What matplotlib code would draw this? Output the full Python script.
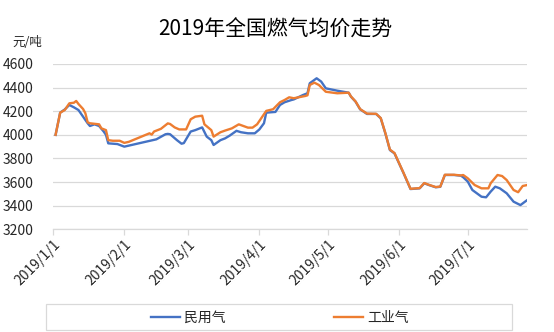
import matplotlib
matplotlib.use("Agg")
import matplotlib.pyplot as plt
import matplotlib.dates as mdates
from matplotlib.patches import Rectangle
from matplotlib.lines import Line2D
from datetime import datetime

plt.rcParams['font.family'] = ['Noto Sans CJK SC', 'DejaVu Sans']

title = "2019年全国燃气均价走势"
unit_label = "元/吨"
series_names = ["民用气", "工业气"]

civil_dates = [
    "2019-01-02", "2019-01-04", "2019-01-06", "2019-01-08", "2019-01-10", "2019-01-12",
    "2019-01-14", "2019-01-16", "2019-01-17", "2019-01-19", "2019-01-21", "2019-01-23",
    "2019-01-24", "2019-01-25", "2019-01-29", "2019-02-01", "2019-02-15", "2019-02-19",
    "2019-02-20", "2019-02-21", "2019-02-24", "2019-02-26", "2019-02-27", "2019-03-02",
    "2019-03-04", "2019-03-07", "2019-03-09", "2019-03-11", "2019-03-12", "2019-03-15",
    "2019-03-17", "2019-03-19", "2019-03-22", "2019-03-24", "2019-03-27", "2019-03-30",
    "2019-04-01", "2019-04-03", "2019-04-04", "2019-04-08", "2019-04-10", "2019-04-12",
    "2019-04-15", "2019-04-16", "2019-04-20", "2019-04-22", "2019-04-23", "2019-04-26",
    "2019-04-28", "2019-04-30", "2019-05-05", "2019-05-10", "2019-05-11", "2019-05-13",
    "2019-05-15", "2019-05-18", "2019-05-22", "2019-05-24", "2019-05-26", "2019-05-28",
    "2019-05-30", "2019-06-03", "2019-06-06", "2019-06-10", "2019-06-12", "2019-06-14",
    "2019-06-17", "2019-06-19", "2019-06-21", "2019-06-25", "2019-06-28", "2019-06-29",
    "2019-07-01", "2019-07-03", "2019-07-07", "2019-07-09", "2019-07-11", "2019-07-13",
    "2019-07-15", "2019-07-18", "2019-07-21", "2019-07-24", "2019-07-26", "2019-07-27",
]
civil_values = [
    4000, 4188, 4215, 4253, 4233, 4210,
    4154, 4098, 4075, 4089, 4075, 4028,
    4000, 3928, 3922, 3900, 3962, 4005,
    4008, 4005, 3955, 3925, 3930, 4028,
    4040, 4063, 3985, 3955, 3914, 3955,
    3970, 3993, 4034, 4022, 4013, 4013,
    4046, 4098, 4188, 4194, 4253, 4276,
    4295, 4300, 4337, 4352, 4437, 4479,
    4451, 4394, 4374, 4357, 4323, 4281,
    4216, 4177, 4177, 4140, 4013, 3871,
    3843, 3674, 3541, 3547, 3590, 3575,
    3556, 3560, 3660, 3660, 3654, 3641,
    3604, 3533, 3476, 3471, 3519, 3561,
    3547, 3505, 3434, 3405, 3434, 3448,
]

industrial_dates = [
    "2019-01-02", "2019-01-04", "2019-01-06", "2019-01-08", "2019-01-10", "2019-01-11",
    "2019-01-12", "2019-01-14", "2019-01-15", "2019-01-16", "2019-01-17", "2019-01-21",
    "2019-01-22", "2019-01-24", "2019-01-25", "2019-01-27", "2019-01-30", "2019-02-01",
    "2019-02-03", "2019-02-12", "2019-02-13", "2019-02-14", "2019-02-17", "2019-02-20",
    "2019-02-21", "2019-02-23", "2019-02-25", "2019-02-28", "2019-03-02", "2019-03-04",
    "2019-03-07", "2019-03-08", "2019-03-11", "2019-03-12", "2019-03-15", "2019-03-17",
    "2019-03-20", "2019-03-23", "2019-03-25", "2019-03-27", "2019-03-29", "2019-03-31",
    "2019-04-02", "2019-04-04", "2019-04-07", "2019-04-10", "2019-04-12", "2019-04-14",
    "2019-04-16", "2019-04-21", "2019-04-22", "2019-04-23", "2019-04-25", "2019-04-27",
    "2019-04-30", "2019-05-05", "2019-05-10", "2019-05-11", "2019-05-13", "2019-05-15",
    "2019-05-18", "2019-05-22", "2019-05-24", "2019-05-26", "2019-05-28", "2019-05-30",
    "2019-06-03", "2019-06-06", "2019-06-10", "2019-06-12", "2019-06-14", "2019-06-17",
    "2019-06-19", "2019-06-21", "2019-06-25", "2019-06-28", "2019-06-29", "2019-07-01",
    "2019-07-04", "2019-07-07", "2019-07-10", "2019-07-11", "2019-07-14", "2019-07-16",
    "2019-07-18", "2019-07-21", "2019-07-23", "2019-07-25", "2019-07-27",
]
industrial_values = [
    4000, 4188, 4210, 4267, 4272, 4287,
    4261, 4219, 4183, 4106, 4098, 4089,
    4055, 4040, 3955, 3950, 3950, 3932,
    3941, 4013, 4002, 4028, 4051, 4097,
    4092, 4063, 4046, 4046, 4132, 4154,
    4162, 4089, 4040, 3985, 4022, 4036,
    4055, 4089, 4075, 4061, 4061, 4089,
    4146, 4203, 4217, 4276, 4295, 4318,
    4310, 4329, 4335, 4422, 4442, 4422,
    4365, 4352, 4357, 4325, 4283, 4218,
    4180, 4178, 4142, 4016, 3875, 3846,
    3676, 3543, 3549, 3592, 3577, 3558,
    3562, 3662, 3662, 3656, 3660, 3632,
    3575, 3547, 3547, 3590, 3660, 3651,
    3617, 3533, 3514, 3567, 3575,
]

month_ticks = ["2019-01-01", "2019-02-01", "2019-03-01", "2019-04-01",
               "2019-05-01", "2019-06-01", "2019-07-01"]
x_start, x_end = "2019-01-01", "2019-07-27"
y_ticks = [3200, 3400, 3600, 3800, 4000, 4200, 4400, 4600]

to_dt = lambda seq: [datetime.strptime(s, "%Y-%m-%d") for s in seq]

blue = "#4472C4"
orange = "#ED7D31"
grid_c = "#D9D9D9"
text_c = "#262626"

fig = plt.figure(figsize=(5.54, 3.32), dpi=100)
ax = fig.add_axes([53.3 / 554, 1 - 229.3 / 332, (527.3 - 53.3) / 554, (229.3 - 64) / 332])

ax.plot(to_dt(civil_dates), civil_values, color=blue, lw=1.7, solid_joinstyle="round")
ax.plot(to_dt(industrial_dates), industrial_values, color=orange, lw=1.7, solid_joinstyle="round")

ax.set_xlim(to_dt([x_start])[0], to_dt([x_end])[0])
ax.set_ylim(y_ticks[0], y_ticks[-1])
ax.set_yticks(y_ticks)
ax.set_yticklabels([str(v) for v in y_ticks])
ax.set_xticks(to_dt(month_ticks))
ax.xaxis.set_major_formatter(plt.FuncFormatter(
    lambda v, p: (lambda d: f"{d.year}/{d.month}/{d.day}")(mdates.num2date(v))))

ax.grid(axis="y", color=grid_c, lw=0.9)
ax.set_axisbelow(True)
for s in ["left", "right", "top"]:
    ax.spines[s].set_visible(False)
ax.spines["bottom"].set_color(grid_c)
ax.spines["bottom"].set_linewidth(0.9)
ax.tick_params(axis="y", length=0, pad=14, labelsize=10, labelcolor=text_c)
ax.tick_params(axis="x", length=4, color=grid_c, width=0.9, pad=2,
               labelsize=10, labelcolor=text_c)
for lab in ax.get_xticklabels():
    lab.set_rotation(45)
    lab.set_ha("right")
    lab.set_va("top")
    lab.set_rotation_mode("anchor")

fig.text(275 / 554, 1 - 30 / 332, title, ha="center", va="center",
         fontsize=15, color="black")
fig.text(12 / 554, 1 - 43 / 332, unit_label, ha="left", va="center",
         fontsize=9, color=text_c)

# legend frame and entries
fig.patches.append(Rectangle((45.5 / 554, 1 - 330 / 332), (512 - 45.5) / 554, 26 / 332,
                             transform=fig.transFigure, fill=False,
                             edgecolor=grid_c, lw=0.9))
handles = [Line2D([], [], color=blue, lw=1.7), Line2D([], [], color=orange, lw=1.7)]
fig.legend(handles, series_names, loc="center", bbox_to_anchor=(280 / 554, 1 - 318 / 332),
           ncol=2, frameon=False, fontsize=10, handlelength=2.1, handletextpad=0.3,
           columnspacing=7.8, labelcolor=text_c)

fig.savefig("out.png", dpi=100)
